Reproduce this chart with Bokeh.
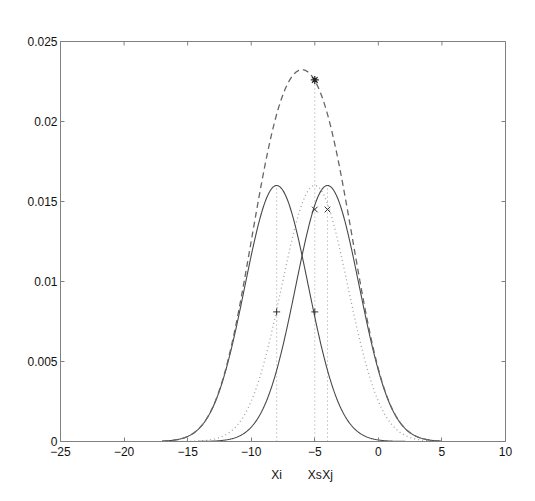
import numpy as np
from bokeh.plotting import figure
from bokeh.models import Range1d, LinearAxis, FixedTicker, CustomJSTickFormatter
from bokeh.embed import file_html
from bokeh.resources import INLINE

# ---- data ----
x_ticks = [-25, -20, -15, -10, -5, 0, 5, 10]
y_ticks = [0, 0.005, 0.01, 0.015, 0.02, 0.025]

# Gaussian components (mean, sigma, peak height)
comp_means = [-8.0, -4.0]
comp_sigmas = [2.5, 2.5]
comp_peaks = [0.016, 0.016]

# dotted curve centred on Xs
mid_mean = -5.0
mid_sigma = 2.6
mid_peak = 0.016

curve_start = -17.0
curve_end = 5.0

# markers
plus_x = [-8.0, -5.0]
plus_y = [0.0081, 0.0081]
cross_x = [-5.0, -4.0]
cross_y = [0.0145, 0.0145]
star_x = [-5.0]
star_y = [0.0226]

# vertical dotted guides
guide_x = [-8.0, -5.0, -4.0]
guide_top = [0.016, 0.0226, 0.016]

# point names under the axis
point_x = [-8, -5, -4]
point_names = ["Xi", "Xs", "Xj"]

# ---- curves ----
xs = np.linspace(curve_start, curve_end, 400)
def gauss(x, m, s, h):
    return h * np.exp(-((x - m) ** 2) / (2 * s * s))

g1 = gauss(xs, comp_means[0], comp_sigmas[0], comp_peaks[0])
g2 = gauss(xs, comp_means[1], comp_sigmas[1], comp_peaks[1])
gsum = g1 + g2
gmid = gauss(xs, mid_mean, mid_sigma, mid_peak)

AX = "#808080"
FONT = "Liberation Sans"
X0, X1, Y0, Y1 = -25, 10, 0, 0.025
FW, FH = 445, 400

p = figure(frame_width=FW, frame_height=FH, x_range=Range1d(X0, X1), y_range=Range1d(Y0, Y1),
           output_backend="svg", toolbar_location=None,
           min_border_left=60, min_border_top=41, min_border_right=12, min_border_bottom=40)
p.grid.visible = False
p.outline_line_color = AX
p.background_fill_color = "white"
p.border_fill_color = "white"

fmt = CustomJSTickFormatter(code="""
var s = tick.toFixed(3);
s = s.replace(/0+$/, '').replace(/\\.$/, '');
return s;
""")

def style_axis(ax):
    ax.axis_line_color = AX
    ax.major_tick_line_color = AX
    ax.major_tick_in = 4
    ax.major_tick_out = 0
    ax.minor_tick_line_color = None
    ax.major_label_text_font = FONT
    ax.major_label_text_font_size = "12px"
    ax.major_label_text_color = "#111111"

p.xaxis.ticker = FixedTicker(ticks=x_ticks)
p.yaxis.ticker = FixedTicker(ticks=y_ticks)
p.yaxis.formatter = fmt
style_axis(p.xaxis[0])
style_axis(p.yaxis[0])
p.xaxis.major_label_standoff = 5
p.yaxis.major_label_standoff = 3

# second bottom axis carrying the point names
names_axis = LinearAxis(ticker=FixedTicker(ticks=point_x),
                        major_label_overrides={k: v for k, v in zip(point_x, point_names)})
names_axis.axis_line_color = None
names_axis.major_tick_line_color = None
names_axis.minor_tick_line_color = None
names_axis.major_label_standoff = 3
names_axis.major_label_text_font = FONT
names_axis.major_label_text_font_size = "12px"
names_axis.major_label_text_color = "#111111"
p.add_layout(names_axis, "below")

# mirrored ticks on top and right (inward)
tdy = 4 * (Y1 - Y0) / FH
tdx = 4 * (X1 - X0) / FW
p.segment(x0=x_ticks, y0=[Y1] * len(x_ticks), x1=x_ticks, y1=[Y1 - tdy] * len(x_ticks),
          line_color=AX, line_width=1)
p.segment(x0=[X1] * len(y_ticks), y0=y_ticks, x1=[X1 - tdx] * len(y_ticks), y1=y_ticks,
          line_color=AX, line_width=1)

# dotted guides and curve
p.segment(x0=guide_x, y0=[0] * len(guide_x), x1=guide_x, y1=guide_top,
          line_color="#a0a0a0", line_dash="1 3", line_width=1)
p.line(xs, gmid, line_color="#a0a0a0", line_dash="1 3", line_width=1.3)

# solid components
p.line(xs, g1, line_color="#484848", line_width=1.1)
p.line(xs, g2, line_color="#484848", line_width=1.1)

# dashed sum
p.line(xs, gsum, line_color="#666666", line_dash="6 4", line_width=1.3)

# markers
p.scatter(plus_x, plus_y, marker="cross", size=7, line_color="#333333", line_width=1)
p.scatter(cross_x, cross_y, marker="x", size=8, line_color="#333333", line_width=1)
p.scatter(star_x, star_y, marker="asterisk", size=8, line_color="#222222", line_width=1.2)

open("out.html", "w").write(file_html(p, INLINE))
